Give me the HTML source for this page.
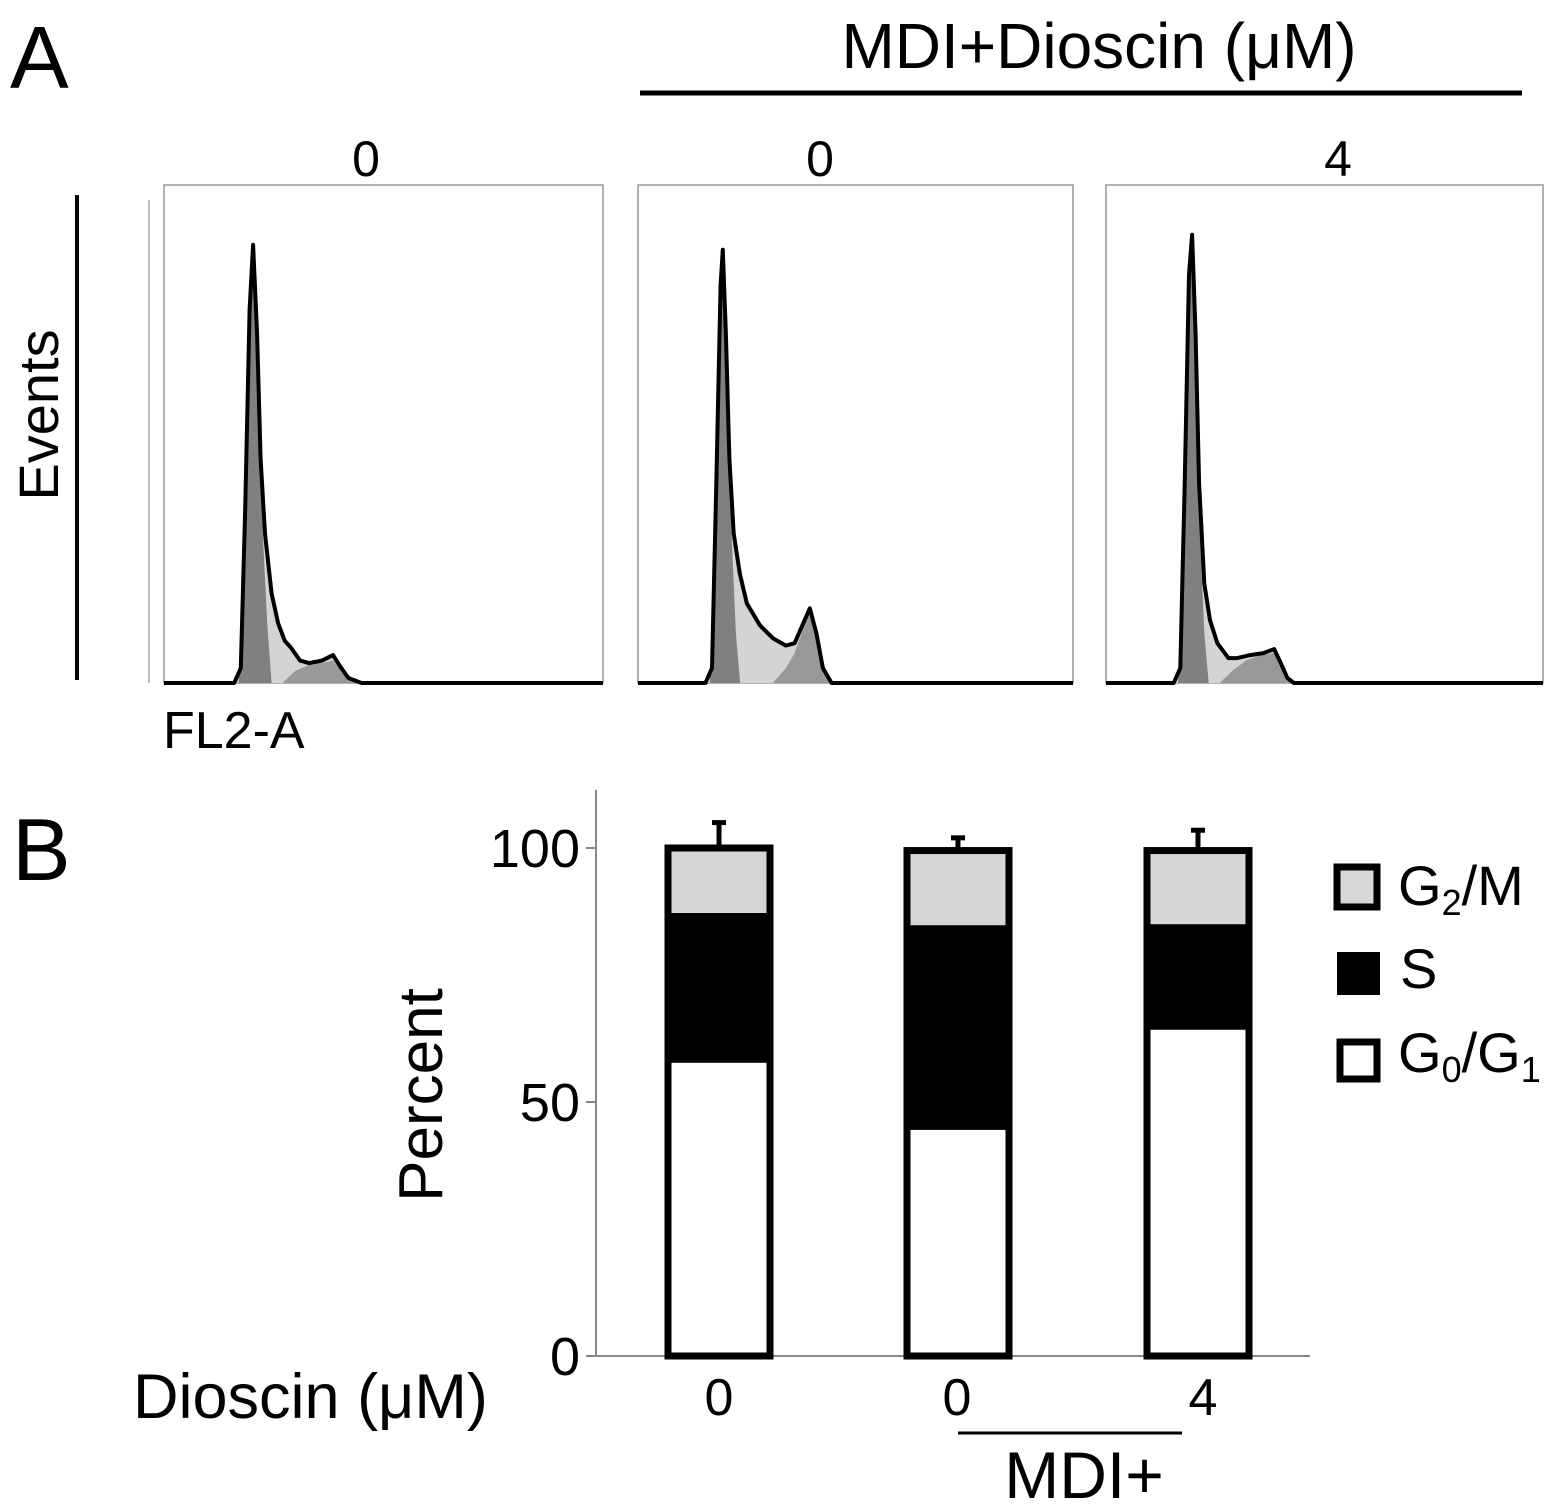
<!DOCTYPE html>
<html><head><meta charset="utf-8"><style>
html,body{margin:0;padding:0;background:#fff;}
svg{display:block;font-family:"Liberation Sans",sans-serif;}
</style></head><body>
<svg id="fig" width="1559" height="1512" viewBox="0 0 1559 1512" xmlns="http://www.w3.org/2000/svg">
<rect width="1559" height="1512" fill="#fff"/>
<text x="10" y="88" font-size="88">A</text>
<text x="1099" y="68" font-size="64" text-anchor="middle">MDI+Dioscin (μM)</text>
<line x1="640" y1="93" x2="1522" y2="93" stroke="#000" stroke-width="5"/>
<text x="366" y="176" font-size="50" text-anchor="middle">0</text>
<text x="820" y="176" font-size="50" text-anchor="middle">0</text>
<text x="1338" y="176" font-size="50" text-anchor="middle">4</text>
<text transform="translate(58,415) rotate(-90)" font-size="56" text-anchor="middle">Events</text>
<line x1="77" y1="195" x2="77" y2="680" stroke="#000" stroke-width="4"/>
<text x="163" y="748" font-size="52">FL2-A</text>
<g id="hists"></g>

<text x="12" y="880" font-size="88">B</text>
<text transform="translate(442,1095) rotate(-90)" font-size="62" text-anchor="middle">Percent</text>
<g id="bars"></g>
<text x="133" y="1418" font-size="63">Dioscin (μM)</text>
<line x1="958" y1="1433" x2="1182" y2="1433" stroke="#000" stroke-width="3"/>
<text x="1084" y="1498" font-size="66" text-anchor="middle">MDI+</text>

<g>
<rect x="1337" y="867" width="40" height="40" fill="#d8d8d8" stroke="#000" stroke-width="7"/>
<text x="1398" y="905" font-size="56">G<tspan font-size="36" dy="10">2</tspan><tspan dy="-10">/M</tspan></text>
<rect x="1337" y="952" width="43" height="43" fill="#000"/>
<text x="1400" y="988" font-size="56">S</text>
<rect x="1340" y="1042" width="37" height="37" fill="#fff" stroke="#000" stroke-width="7"/>
<text x="1398" y="1072" font-size="56">G<tspan font-size="36" dy="10">0</tspan><tspan dy="-10">/G</tspan><tspan font-size="36" dy="10">1</tspan></text>
</g>
</svg>
<script>
// ---- Histogram data (x: % of channel range, y: % of count range) ----
const envelope1 = [[16,0],[17.5,3],[18.5,35],[19.5,75],[20.3,88],[21.2,70],[22,45],[23,30],[24.5,18],[26,12],[27.5,8.5],[29,7],[31,4.5],[33,4],[36,4.5],[38.5,5.6],[40,3.5],[42,1],[45,0]];
const envelope2 = [[15.5,0],[17,3],[18,40],[19,80],[19.5,87],[20.2,70],[21,45],[22,30],[23.4,22],[25,16],[28,11.6],[31,9],[34,7.5],[36,8],[38,12],[39.5,15],[41,10],[42.5,3],[44.5,0]];
const envelope3 = [[15.5,0],[17,3],[18,40],[19,82],[19.7,90],[20.5,70],[21.3,40],[22.5,20],[23.8,12.6],[25.5,8],[28,5],[30,5],[33,5.6],[36,6],[38.5,6.8],[40,4],[41.5,1],[43,0]];
const g1Fit1 = [[17,0],[18.5,30],[19.5,70],[20.3,84],[21.2,60],[22.5,30],[23.5,12],[24.5,0]];
const g1Fit2 = [[16.5,0],[18,35],[19,75],[19.5,83],[20.2,60],[21.5,30],[22.5,10],[23.5,0]];
const g1Fit3 = [[16.5,0],[18,35],[19,78],[19.7,86],[20.5,60],[21.5,30],[22.5,10],[23.5,0]];
const g2Fit1 = [[27,0],[30,2.5],[33,3.6],[36,4],[38.5,4.5],[40,3],[42,1],[44,0]];
const g2Fit2 = [[31,0],[34,3],[36,6],[38,11],[39.5,14],[41,9],[42.5,3],[44,0]];
const g2Fit3 = [[26,0],[29,2.5],[32,4.5],[35,5.5],[38.5,6],[40,3.5],[41.5,1],[43,0]];

const panels = [
  {name:'control', x:164, w:439, env:envelope1, g1:g1Fit1, g2:g2Fit1},
  {name:'mdi', x:638, w:435, env:envelope2, g1:g1Fit2, g2:g2Fit2},
  {name:'mdi-dioscin4', x:1106, w:437, env:envelope3, g1:g1Fit3, g2:g2Fit3}
];
const NS='http://www.w3.org/2000/svg';
const hTop=185, hBase=683, hH=hBase-hTop;
function mk(tag, attrs, parent){const e=document.createElementNS(NS,tag);for(const k in attrs)e.setAttribute(k,attrs[k]);parent.appendChild(e);return e;}
const hg=document.getElementById('hists');
panels.forEach((p,i)=>{
  const sx=v=>p.x+v/100*p.w, sy=v=>hBase-v/100*hH;
  const pts=a=>a.map(d=>sx(d[0]).toFixed(1)+','+sy(d[1]).toFixed(1)).join(' ');
  const g=mk('g',{},hg);
  
  
  const box=mk('rect',{x:p.x,y:hTop,width:p.w,height:hH,fill:'#fff',stroke:'#999','stroke-width':1.5},g);
  
  
  const e=mk('polygon',{points:pts(p.env),fill:'#d4d4d4'},g);
  
  
  const g1=mk('polygon',{points:pts(p.g1),fill:'#808080'},g);
  
  
  const g2=mk('polygon',{points:pts(p.g2),fill:'#999'},g);
  
  
  const full=[[0,0]].concat(p.env,[[100,0]]);
  const line=mk('polyline',{points:pts(full),fill:'none',stroke:'#000','stroke-width':4,'stroke-linejoin':'round'},g);
  
  
  if(i===0){
    const ax=mk('line',{x1:p.x-15,y1:hTop+15,x2:p.x-15,y2:hBase,stroke:'#aaa','stroke-width':1.5},g);
    
    
  }
});

// ---- Stacked bar data ----
const groups = ['0','0','4'];
const g0g1 = [57.7, 44.5, 64.2];
const sPhase = [29.5, 40.3, 20.8];
const g2m = [12.8, 14.7, 14.5];
const errUp = [5, 2.5, 4];
const yTicks = [0, 50, 100];

const bg=document.getElementById('bars');
const y0=1356, pxPer=5.08, axX=596;
const ys=v=>y0-v*pxPer;
const barX=[668,907,1147], barW=102;
const yax=mk('line',{x1:axX,y1:790,x2:axX,y2:y0,stroke:'#888','stroke-width':2},bg);


const xax=mk('line',{x1:axX-8,y1:y0,x2:1310,y2:y0,stroke:'#888','stroke-width':2},bg);


yTicks.forEach(t=>{
  const tk=mk('line',{x1:axX-10,y1:ys(t),x2:axX,y2:ys(t),stroke:'#888','stroke-width':2},bg);
  
  
  const tl=mk('text',{x:580,y:ys(t)+19,'font-size':54,'text-anchor':'end'},bg);
  tl.textContent=t;
  
  
});
groups.forEach((gname,i)=>{
  const x=barX[i];
  const a=g0g1[i], b=a+sPhase[i], c=b+g2m[i];
  const eb=mk('line',{x1:x+barW/2,y1:ys(c),x2:x+barW/2,y2:ys(c+errUp[i]),stroke:'#000','stroke-width':5},bg);
  
  
  const ec=mk('line',{x1:x+barW/2-7,y1:ys(c+errUp[i]),x2:x+barW/2+7,y2:ys(c+errUp[i]),stroke:'#000','stroke-width':5},bg);
  
  
  const r1=mk('rect',{x:x,y:ys(c),width:barW,height:ys(b)-ys(c),fill:'#d6d6d6'},bg);
  
  
  const r2=mk('rect',{x:x,y:ys(b),width:barW,height:ys(a)-ys(b),fill:'#000'},bg);
  
  
  const r3=mk('rect',{x:x,y:ys(a),width:barW,height:ys(0)-ys(a),fill:'#fff'},bg);
  
  
  const ol=mk('rect',{x:x,y:ys(c),width:barW,height:ys(0)-ys(c),fill:'none',stroke:'#000','stroke-width':7},bg);
  
  
  const lbl=mk('text',{x:[719,957,1203][i],y:1415,'font-size':52,'text-anchor':'middle'},bg);
  lbl.textContent=gname;
  
  
});
</script>
</body></html>
